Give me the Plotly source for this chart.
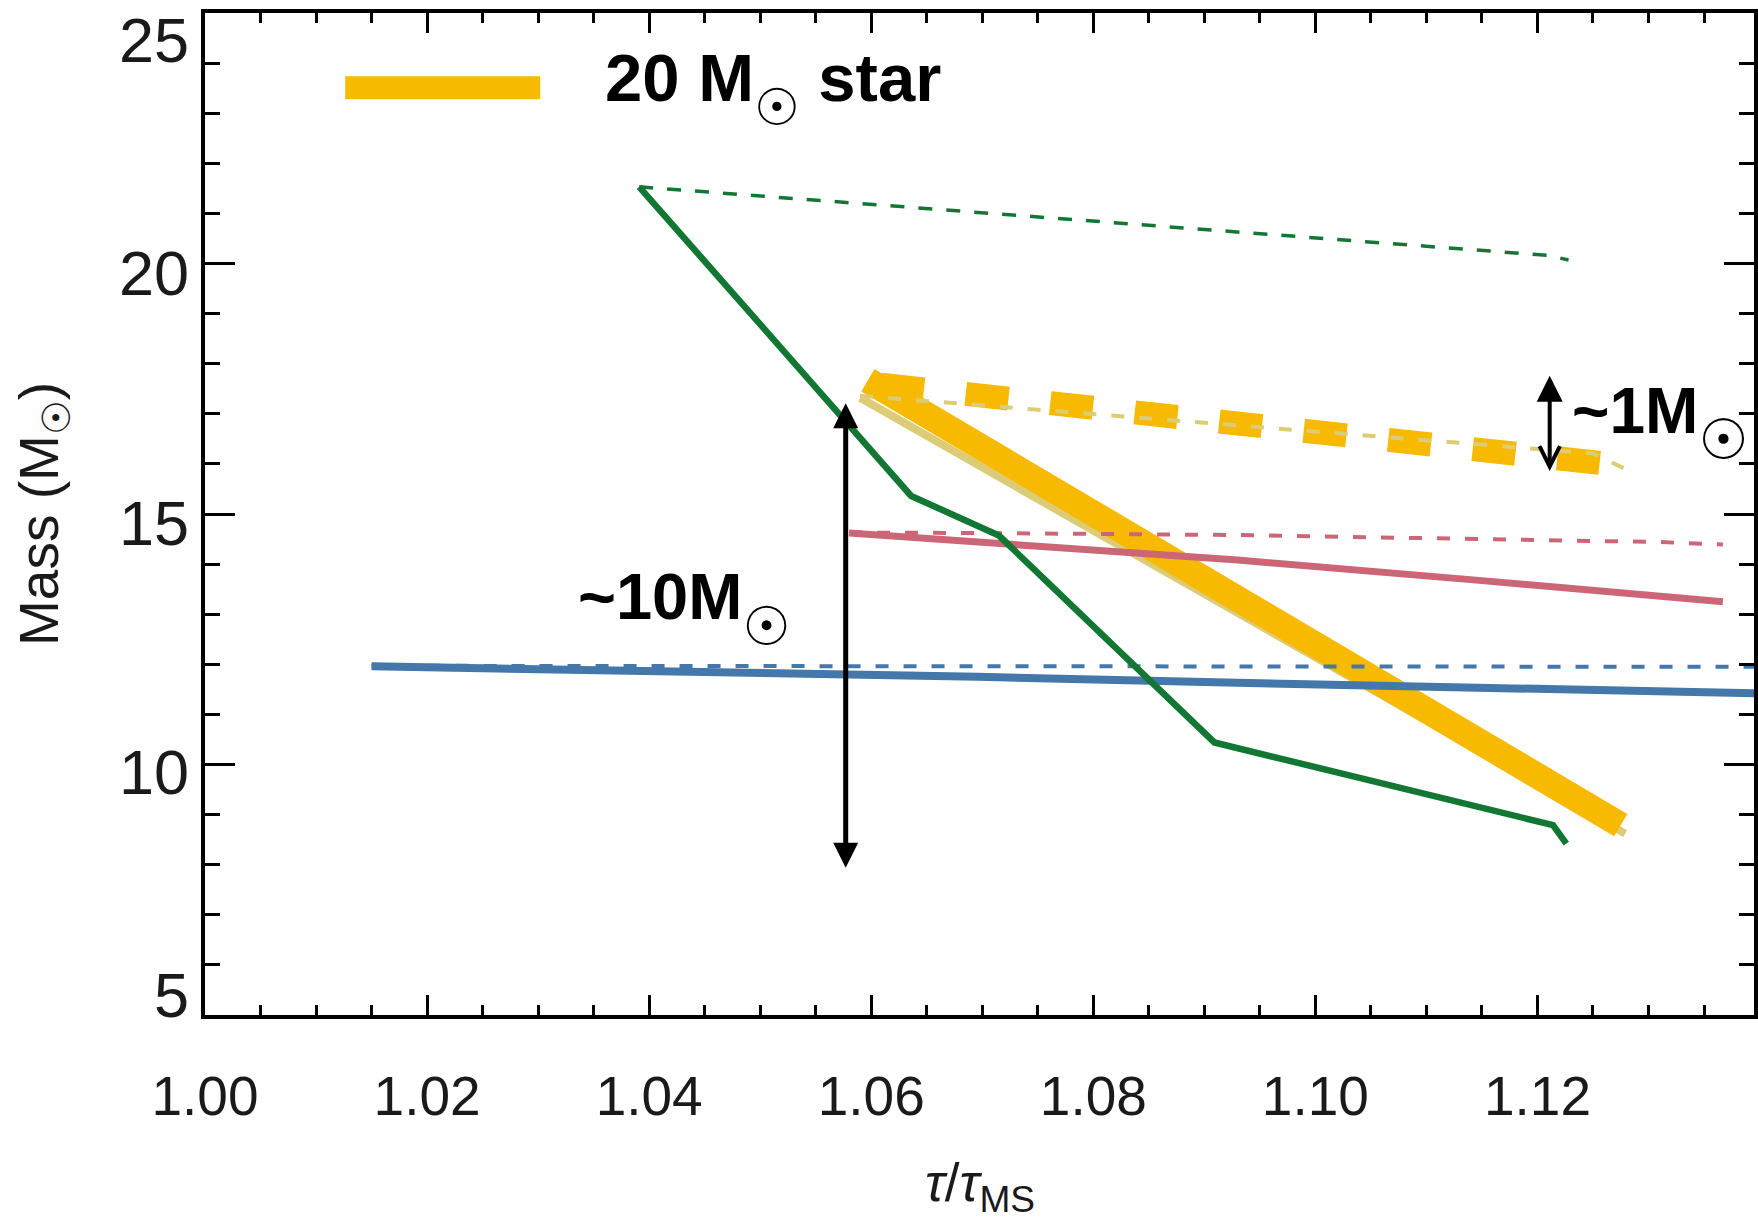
import plotly.graph_objects as go

# ---------------- data ----------------
green_solid_x = [1.0391, 1.0636, 1.0715, 1.0909, 1.1214, 1.1226]
green_solid_y = [21.53, 15.36, 14.57, 10.44, 8.79, 8.42]
green_dash_x = [1.0391, 1.1210, 1.1228]
green_dash_y = [21.53, 20.16, 20.07]

pink_solid_x = [1.0580, 1.0696, 1.0930, 1.1150, 1.1367]
pink_solid_y = [14.62, 14.45, 14.08, 13.67, 13.25]
pink_dash_x = [1.0580, 1.0700, 1.0930, 1.1070, 1.1310, 1.1367]
pink_dash_y = [14.63, 14.62, 14.58, 14.53, 14.44, 14.39]

blue_solid_x = [1.0150, 1.0400, 1.0696, 1.0930, 1.1400]
blue_solid_y = [11.96, 11.87, 11.75, 11.63, 11.42]
blue_dash_x = [1.0150, 1.1400]
blue_dash_y = [11.97, 11.95]

star20_solid_x = [1.0597, 1.1275]
star20_solid_y = [17.67, 8.79]
star20_dash_x = [1.0609, 1.1256]
star20_dash_y = [17.58, 16.02]

sand_solid_x = [1.0590, 1.1279]
sand_solid_y = [17.32, 8.62]
sand_dash_x = [1.0590, 1.1250, 1.1279]
sand_dash_y = [17.36, 16.21, 15.90]

# arrows: x position, bottom tip, top tip
big_arrow_x = 1.0577
big_arrow_y = [7.93, 17.21]
small_arrow_x = 1.1211
small_arrow_y = [15.85, 17.76]

# text labels
label10_x, label10_y = 1.0334, 13.11
label1_x, label1_y = 1.1229, 16.80

x_range = [1.0, 1.1395]
y_range = [5, 25]
y_tick_vals = [5, 10, 15, 20, 25]
y_tick_text = ["5", "10", "15", "20", "25"]

# ---------------- styles ----------------
YELLOW = "#F7BA00"
SAND = "#DDCC77"
GREEN = "#117733"
ROSE = "#CC6677"
BLUE = "#4477AA"
FONT = "Liberation Sans, Arial, sans-serif"
TXT = "#1a1a1a"


def sun(size, shift):
    return ("<span style='font-family:DejaVu Sans;font-weight:normal;"
            f"font-size:{size}px;baseline-shift:-{shift}px'>☉</span>")


fig = go.Figure()


def add(x, y, color, width, dash="solid"):
    fig.add_trace(go.Scatter(x=x, y=y, mode="lines",
                             line=dict(color=color, width=width, dash=dash),
                             showlegend=False, hoverinfo="skip"))


add(sand_solid_x, sand_solid_y, SAND, 8)
add(star20_solid_x, star20_solid_y, YELLOW, 26)
add(star20_dash_x, star20_dash_y, YELLOW, 24, "43px,42px")
add(sand_dash_x, sand_dash_y, SAND, 4, "13px,15px")
add(blue_solid_x, blue_solid_y, BLUE, 8)
add(blue_dash_x, blue_dash_y, BLUE, 4, "13px,15px")
add(pink_solid_x, pink_solid_y, ROSE, 7)
add(pink_dash_x, pink_dash_y, ROSE, 4, "13px,15px")
add(green_solid_x, green_solid_y, GREEN, 6.5)
add(green_dash_x, green_dash_y, GREEN, 3.5, "14px,14px")

# arrows
fig.add_annotation(x=big_arrow_x, y=big_arrow_y[1], ax=big_arrow_x, ay=big_arrow_y[0],
                   xref="x", yref="y", axref="x", ayref="y", text="", showarrow=True,
                   arrowhead=2, arrowsize=1, arrowwidth=5, arrowcolor="black",
                   arrowside="end+start", startarrowhead=2, startarrowsize=1,
                   standoff=0, startstandoff=0, borderpad=0, font=dict(size=1))
fig.add_annotation(x=small_arrow_x, y=small_arrow_y[1], ax=small_arrow_x, ay=small_arrow_y[0],
                   xref="x", yref="y", axref="x", ayref="y", text="", showarrow=True,
                   arrowhead=2, arrowsize=1.3, arrowwidth=4, arrowcolor="black",
                   arrowside="end+start", startarrowhead=5, startarrowsize=1,
                   standoff=0, startstandoff=0, borderpad=0, font=dict(size=1))

# annotation texts
fig.add_annotation(x=label10_x, y=label10_y, xref="x", yref="y", xanchor="left", yanchor="middle",
                   text="<b>~10M</b>" + sun(54, 26), showarrow=False,
                   font=dict(family=FONT, size=65, color="black"))
fig.add_annotation(x=label1_x, y=label1_y, xref="x", yref="y", xanchor="left", yanchor="middle",
                   text="<b>~1M</b>" + sun(56, 26), showarrow=False,
                   font=dict(family=FONT, size=64, color="black"))

# legend sample
fig.add_shape(type="line", xref="paper", yref="paper", x0=0.0905, x1=0.2164,
              y0=0.9253, y1=0.9253, line=dict(color=YELLOW, width=23))
fig.add_annotation(x=0.2569, y=0.925, xref="paper", yref="paper", xanchor="left", yanchor="middle",
                   text="<b>20 M</b>" + sun(51, 24) + "<b> star</b>", showarrow=False,
                   font=dict(family=FONT, size=67, color="black"))

# y tick labels (offset like the reference)
y_shift = {5: 20, 10: -7, 15: -9, 20: -9, 25: -27}
for v, t in zip(y_tick_vals, y_tick_text):
    fig.add_annotation(x=0, y=v, xref="paper", yref="y", xanchor="right", yanchor="middle",
                       xshift=-14, yshift=y_shift[v], text=t, showarrow=False,
                       font=dict(family=FONT, size=63, color=TXT))

# axis titles
fig.add_annotation(x=0.5, y=-0.171, xref="paper", yref="paper", xanchor="center", yanchor="middle",
                   text="<i>τ</i>/<i>τ</i><sub>MS</sub>", showarrow=False,
                   font=dict(family=FONT, size=53, color=TXT))
fig.add_annotation(x=-0.1046, y=0.5, xref="paper", yref="paper", xanchor="center", yanchor="middle",
                   text="Mass (M<sub>☉</sub>)", textangle=-90, showarrow=False,
                   font=dict(family=FONT, size=55, color=TXT))

axis_common = dict(showline=True, linecolor="black", linewidth=3.5, mirror="allticks",
                   ticks="inside", tickcolor="black", tickwidth=3, showgrid=False,
                   zeroline=False)

fig.update_xaxes(range=x_range, tick0=1.0, dtick=0.02, tickformat=".2f", ticklen=20,
                 minor=dict(ticks="inside", dtick=0.005, ticklen=10, tickwidth=3, tickcolor="black"),
                 tickfont=dict(family=FONT, size=55, color=TXT), ticklabelstandoff=30,
                 **axis_common)
fig.update_yaxes(range=y_range, tick0=5, dtick=5, ticklen=30, showticklabels=False,
                 minor=dict(ticks="inside", dtick=1, ticklen=15, tickwidth=3, tickcolor="black"),
                 **axis_common)

fig.update_layout(width=1758, height=1224, margin=dict(l=205, r=0, t=13, b=209),
                  paper_bgcolor="white", plot_bgcolor="white", showlegend=False,
                  font=dict(family=FONT, color=TXT))

fig.write_html("out.html")
